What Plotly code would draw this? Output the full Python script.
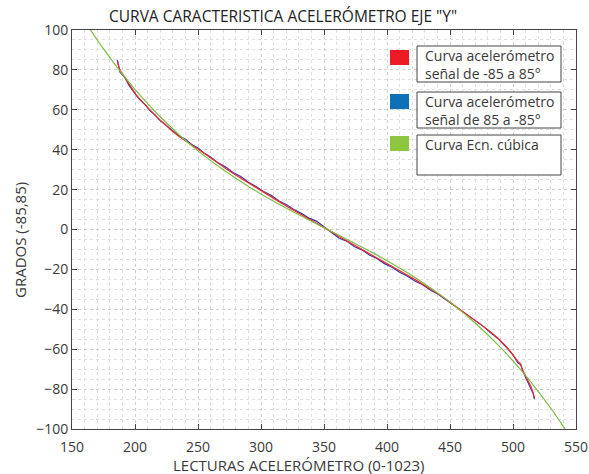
import plotly.graph_objects as go

# ---------------- data ----------------
green_x = [163, 175, 190, 205, 220, 235, 250, 270, 290, 310, 330, 350, 370, 390,
           410, 430, 450, 470, 490, 505, 520, 530, 540, 542]
green_y = [101.6, 90.5, 77.9, 66.6, 56.5, 47.5, 39.4, 29.9, 21.6, 14.2, 7.4, 0.96,
           -5.5, -12.1, -19.3, -27.3, -36.4, -46.9, -59.1, -69.5, -81.1, -89.6, -98.8, -100.7]

meas_x = [186, 188, 190, 192, 195, 198, 201, 204, 208, 212, 216, 220, 225, 230, 235,
          240, 245, 250, 255, 260, 266, 272, 278, 284, 290, 296, 302, 308, 314, 320,
          326, 332, 338, 344, 350, 356, 362, 368, 374, 380, 386, 392, 398, 404, 410,
          416, 422, 428, 434, 440, 446, 452, 458, 464, 470, 476, 482, 488, 494, 500,
          504, 506, 508, 510, 512, 514, 516, 517]

red_y = [84.0, 80.0, 78.0, 76.0, 73.0, 69.8, 67.5, 65.2, 62.4, 59.8, 57.2, 54.8, 51.8,
         49.1, 46.6, 44.3, 42.4, 40.3, 38.0, 35.8, 33.2, 30.6, 28.1, 25.7, 23.3, 21.0,
         18.7, 16.4, 14.1, 11.8, 9.7, 7.5, 5.4, 3.2, 1.0, -1.2, -3.5, -5.6, -7.8, -9.9,
         -12.0, -14.1, -16.3, -18.5, -20.6, -22.8, -25.0, -27.2, -29.6, -32.0, -34.6,
         -37.3, -40.1, -42.8, -45.4, -48.2, -51.2, -54.5, -58.2, -62.7, -66.3, -67.3,
         -71.0, -73.4, -75.8, -78.5, -81.8, -84.5]

blue_y = [85.0, 79.0, 77.5, 76.2, 72.5, 69.5, 67.2, 65.0, 62.6, 59.5, 57.4, 54.6, 51.9,
          49.3, 46.9, 45.2, 42.6, 40.8, 38.2, 36.4, 33.4, 31.3, 28.4, 26.6, 23.7, 21.6,
          19.0, 17.2, 14.4, 12.5, 10.0, 8.1, 5.7, 4.2, 1.2, -1.5, -4.4, -5.8, -8.5, -10.2,
          -12.8, -14.5, -17.1, -18.9, -21.4, -23.3, -25.8, -27.6, -30.2, -32.2, -34.9,
          -37.5, -40.4, -42.8, -45.7, -48.3, -51.6, -54.6, -58.5, -62.9, -66.9, -67.6,
          -71.5, -74.0, -76.8, -79.3, -82.2, -85.0]

legend_labels = [["Curva acelerómetro", "señal de -85 a 85°"],
                 ["Curva acelerómetro", "señal de 85 a -85°"],
                 ["Curva Ecn. cúbica", ""]]
legend_colors = ["#ED1C24", "#0E71B8", "#8CC63F"]

x_ticks = [150, 200, 250, 300, 350, 400, 450, 500, 550]
y_ticks = [-100, -80, -60, -40, -20, 0, 20, 40, 60, 80, 100]

title_text = 'CURVA CARACTERISTICA ACELERÓMETRO EJE "Y"'
x_title = "LECTURAS ACELERÓMETRO (0-1023)"
y_title = "GRADOS (-85,85)"

# ---------------- layout geometry (pixels) ----------------
W, H = 589, 474
L, R, T, B = 72, 576, 30, 429
FONT = "Open Sans"
TXT = "#3a3a3a"


def px(p):
    return (p - L) / (R - L)


def py(p):
    return (B - p) / (B - T)


fig = go.Figure()
fig.add_trace(go.Scatter(x=meas_x, y=blue_y, mode="lines",
                         line=dict(color="#3333b0", width=1.2), showlegend=False))
fig.add_trace(go.Scatter(x=meas_x, y=red_y, mode="lines",
                         line=dict(color="#f02a2a", width=1.2), showlegend=False))
fig.add_trace(go.Scatter(x=green_x, y=green_y, mode="lines", line_shape="spline",
                         line=dict(color="#7cbd43", width=1.2), showlegend=False))

axis_common = dict(
    showline=True, linecolor="#444444", linewidth=1, mirror="ticks",
    ticks="inside", ticklen=5, tickcolor="#444444",
    showgrid=True, gridcolor="#cfcfcf", griddash="dot", gridwidth=1,
    zeroline=False, automargin=False,
    tickfont=dict(family=FONT, size=14, color=TXT),
)

fig.update_xaxes(range=[150, 550], tickvals=x_ticks, ticklabelstandoff=5, **axis_common,
                 minor=dict(dtick=10, showgrid=True, gridcolor="#e0e0e0",
                            griddash="dot", gridwidth=1, ticks=""))
fig.update_yaxes(range=[-100, 100], tickvals=y_ticks, **axis_common,
                 minor=dict(dtick=5, showgrid=True, gridcolor="#e0e0e0",
                            griddash="dot", gridwidth=1, ticks=""))

shapes = []
annotations = []
box_tops = [46, 92, 135]
box_bots = [82, 128, 175]
sq_tops = [50, 94, 136]
for i in range(3):
    shapes.append(dict(type="rect", xref="paper", yref="paper",
                       x0=px(417), x1=px(561), y0=py(box_bots[i]), y1=py(box_tops[i]),
                       line=dict(color="#444444", width=1), fillcolor="white", layer="above"))
    shapes.append(dict(type="rect", xref="paper", yref="paper",
                       x0=px(390), x1=px(409), y0=py(sq_tops[i] + 15), y1=py(sq_tops[i]),
                       line=dict(width=0), fillcolor=legend_colors[i], layer="above"))
    for j, line in enumerate(legend_labels[i]):
        if line:
            annotations.append(dict(text=line, xref="paper", yref="paper",
                                    x=px(423), y=py(box_tops[i] + 9 + j * 18),
                                    xanchor="left", yanchor="middle", showarrow=False,
                                    font=dict(family=FONT, size=14, color=TXT)))

annotations.append(dict(text=title_text, xref="paper", yref="paper",
                        x=px(107), y=py(16), xanchor="left", yanchor="middle",
                        showarrow=False, font=dict(family=FONT, size=15.5, color="#222222")))
annotations.append(dict(text=x_title, xref="paper", yref="paper",
                        x=px(299), y=py(465), xanchor="center", yanchor="middle",
                        showarrow=False, font=dict(family=FONT, size=15, color=TXT)))
annotations.append(dict(text=y_title, xref="paper", yref="paper",
                        x=px(20), y=py(240), xanchor="center", yanchor="middle",
                        textangle=-90, showarrow=False,
                        font=dict(family=FONT, size=15, color=TXT)))

fig.update_layout(
    width=W, height=H, autosize=False,
    margin=dict(l=L, r=W - R, t=T, b=H - B),
    paper_bgcolor="white", plot_bgcolor="white",
    shapes=shapes, annotations=annotations, showlegend=False,
)

fig.write_html(
    "out.html",
    config={"responsive": False},
    post_script="document.body.style.margin='0';document.body.style.overflow='hidden';"
                "document.documentElement.style.overflow='hidden';",
)
